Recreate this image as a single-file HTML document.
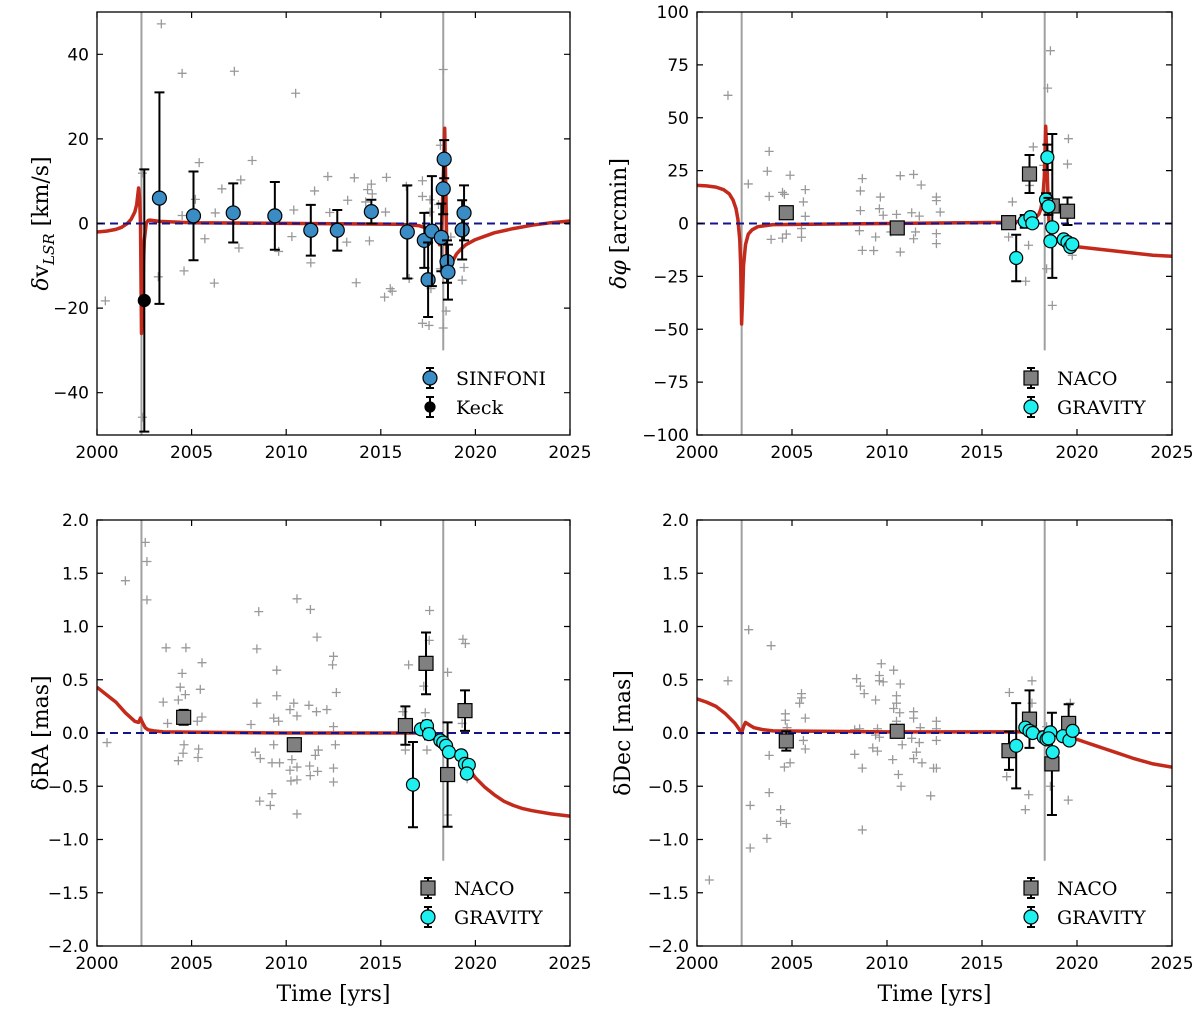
<!DOCTYPE html>
<html><head><meta charset="utf-8"><style>
body{margin:0;background:#fff}
svg{display:block}
.tk{font-family:"DejaVu Sans","Liberation Sans",sans-serif;font-size:17px;fill:#000}
.lb{font-family:"DejaVu Serif","Liberation Serif",serif;font-size:22px;fill:#000}
.lg{font-family:"DejaVu Serif","Liberation Serif",serif;font-size:19px;fill:#000}
</style></head><body>
<svg id="c" width="1200" height="1013" xmlns="http://www.w3.org/2000/svg"></svg>
<script>
// ---- Panel 1: velocity ----
const p1CrossX=[0.44,3.4,4.5,7.26,10.5,5.4,8.2,7.6,6.6,5.2,4.5,6.25,5.7,7.5,4.6,6.2,3.24,2.4,2.4,10.4,9.6,11.5,10.3,12.2,11.3,12.3,13.25,13.6,13.2,13.7,14.5,14.3,14.55,14.2,14.4,15.25,15.3,15.2,15.5,15.6,16.35,16.5,17.2,17.2,17.6,17.2,17.55,18.05,18.15,18.3,18.3,18.45,18.15,18.7,19.4,19.3,17.6,17.65];
const p1CrossY=[-18.3,47.2,35.5,36,30.8,14.4,14.9,10.3,8.2,5.7,1.9,2.5,-3.6,-5.8,-11.2,-14.1,-12.6,11.9,-45.8,3.2,-6.6,7.7,-3.1,11.1,-9.3,2.6,5.5,10.8,-4.4,-14,9.3,8,7,5.1,-4.1,2.7,10.9,-17.4,-15.4,-16,8.8,-13,10.1,6.4,5.6,-23.6,-24.1,4.5,18.5,36.4,-24.7,-20.7,-10.7,-3.2,-10.4,-13.4,2.7,-15.4];
const p1SinX=[3.3,5.1,7.2,9.4,11.3,12.7,14.5,16.4,17.3,17.5,17.7,18.2,18.3,18.35,18.5,18.55,19.3,19.4];
const p1SinY=[6,1.8,2.5,1.8,-1.6,-1.6,2.8,-2,-4,-13.3,-1.8,-3.3,8.2,15.2,-9,-11.5,-1.5,2.5];
const p1SinE=[25,10.5,7,8,6,4.8,2.8,11,6.5,8.8,13,8,6,4.5,5,6.5,7,6.5];
const p1KeckX=[2.5], p1KeckY=[-18.2], p1KeckE=[31];
const p1ModX=[0,0.5,1,1.3,1.6,1.8,2,2.1,2.2,2.25,2.3,2.35,2.4,2.45,2.5,2.6,2.7,2.8,3.3,5,16,17,17.5,17.8,18,18.1,18.2,18.25,18.3,18.35,18.38,18.42,18.45,18.5,18.6,18.7,18.85,19,19.25,19.5,20,20.5,21,22,23,24,25];
const p1ModY=[-2,-1.8,-1.4,-0.9,0,1,2.7,4.5,8.4,6,0,-26,-20,-10,-4,0,0.7,0.8,0.5,0.2,-0.2,-0.5,-1.2,-2,-3.5,-5,-2,3,10,18,22.5,12,5,-12,-12,-10.5,-8.5,-7.2,-6,-5,-3.8,-3,-2.2,-1.2,-0.4,0.2,0.6];
const p1Ticks=[-40,-20,0,20,40];
// ---- Panel 2: phi ----
const p2CrossX=[1.63,2.7,3.8,3.7,3.8,4.9,4.5,4.6,5.6,5.7,5.7,3.9,4.5,4.7,5.5,5.5,8.7,8.6,8.6,9.65,9.6,8.7,9.3,8.55,9.4,10.7,11.4,11.8,10.7,11.4,12.6,12.6,12.8,12.6,12.6,11.7,11.3,10.5,9.8,10.2,11.5,16.6,17.7,17.3,17.45,17.5,18.45,18.6,18.7,18.4,19.55,19.5,19.75,16.4,18.25];
const p2CrossY=[60.6,18.7,34.1,24.7,12.8,22.8,14.7,13.8,10.2,16,3.4,-7.5,-6.9,-5,-6.5,-2.4,21.2,15.4,6.1,12.5,7,-12.7,-12.8,-3.4,-6.4,22.6,23.2,18.2,-13.5,-7.2,12.5,10.8,5.4,-9.5,-4.8,3.5,5.1,4.3,3.9,-4,-4,10.2,36.2,-27.3,-10.3,18,64,81.7,-38.7,-21.4,40.1,28.1,-15,-6.4,27.5];
const p2NacoX=[4.7,10.54,16.4,17.5,18.7,19.5], p2NacoY=[5.1,-2.1,0.4,23.4,8.3,5.8], p2NacoE=[3,2,3,9,34,6.5];
const p2GravX=[16.8,17.25,17.55,17.65,18.37,18.44,18.5,18.7,18.6,19.3,19.5,19.65,19.75];
const p2GravY=[-16.3,1,3,0.1,11.3,31.3,8.1,-1.8,-8.4,-7.5,-8.8,-11.1,-9.8];
const p2GravE=[11,3,2,2,3,6,4,2,2,1.5,1.5,1.5,1.5];
const p2ModX=[0,0.5,1,1.4,1.7,1.9,2.05,2.15,2.25,2.3,2.35,2.4,2.45,2.55,2.7,2.9,3.2,4,10,16,17,17.5,17.8,18,18.1,18.2,18.28,18.35,18.4,18.45,18.5,18.55,18.65,18.8,19.3,20,21,22,23,24,25];
const p2ModY=[18,17.8,17.2,16,14,11,7,2,-8,-20,-47.5,-35,-20,-10,-5,-3,-1.5,-0.5,0,0.5,1,1.5,2.5,4.5,7,12,22,46,35,20,5,-3,-6,-7,-9,-11,-12,-13,-14,-15,-15.5];
const p2Ticks=[-100,-75,-50,-25,0,25,50,75,100];
// ---- Panel 3: RA ----
const p3CrossX=[0.53,1.5,2.55,2.64,2.64,3.65,4.7,5.55,4.5,4.4,4.67,5.46,3.5,4.3,3.73,5.3,5.55,4.6,4.55,4.3,5.37,5.34,8.55,8.45,9.5,9.5,8.45,8.14,10.57,11.28,11.63,12.5,12.45,12.65,12.15,11.2,11.6,10.4,10.2,10.57,9.34,9.6,12.5,8.37,8.63,9.25,9.65,10.3,10.57,10.2,10.25,10.57,11.24,11.27,11.66,11.54,11.7,12.5,12.5,12.6,9.25,8.6,9.16,10.57,9.34,16.47,17.58,17.56,17.27,17.35,17.44,16.17,16.3,18.53,19.34,19.47,19.3,18.53,19.56];
const p3CrossY=[-0.09,1.43,1.79,1.61,1.25,0.8,0.8,0.66,0.56,0.43,0.36,0.41,0.29,0.31,0.09,0.11,0.15,-0.11,-0.19,-0.26,-0.15,-0.23,1.14,0.79,0.59,0.35,0.28,0.08,1.26,1.16,0.9,0.72,0.64,0.38,0.22,0.26,0.2,0.28,0.22,0.16,0.14,0.11,0.06,-0.18,-0.24,-0.28,-0.28,-0.25,-0.32,-0.35,-0.45,-0.44,-0.31,-0.4,-0.36,-0.21,-0.16,-0.33,-0.46,-0.11,-0.57,-0.64,-0.68,-0.76,-0.11,0.64,1.15,0.87,0.44,0.19,-0.16,0.2,-0.16,0.57,0.88,0.84,0.09,-0.77,-0.43];
const p3NacoX=[4.58,10.43,16.3,17.39,18.53,19.45], p3NacoY=[0.147,-0.11,0.07,0.654,-0.39,0.21], p3NacoE=[0.07,0.03,0.18,0.29,0.49,0.19];
const p3GravX=[16.7,17.12,17.44,17.55,18.15,18.3,18.45,18.6,19.25,19.45,19.65,19.55];
const p3GravY=[-0.485,0.035,0.066,-0.01,-0.07,-0.09,-0.12,-0.18,-0.21,-0.29,-0.3,-0.38];
const p3GravE=[0.4,0.03,0.05,0.05,0.03,0.03,0.03,0.03,0.04,0.04,0.04,0.04];
const p3ModX=[0,0.5,1,1.5,2,2.2,2.3,2.4,2.55,2.7,3,3.5,10,17,17.5,18,18.5,19,19.5,20,20.5,21,21.5,22,22.5,23,24,25];
const p3ModY=[0.43,0.36,0.29,0.19,0.11,0.1,0.14,0.1,0.05,0.03,0.02,0.01,0,0,-0.01,-0.03,-0.1,-0.2,-0.3,-0.42,-0.51,-0.58,-0.64,-0.68,-0.71,-0.73,-0.76,-0.78];
const p34Ticks=[-2,-1.5,-1,-0.5,0,0.5,1,1.5,2];
const p34TickLabels=["\u22122.0","\u22121.5","\u22121.0","\u22120.5","0.0","0.5","1.0","1.5","2.0"];
// ---- Panel 4: Dec ----
const p4CrossX=[0.65,1.63,2.72,2.8,2.8,3.9,3.68,3.8,3.8,4.4,4.4,4.7,4.6,4.9,4.65,4.65,4.74,5.4,5.5,5.5,5.7,5.6,5.7,8.4,8.6,8.8,9.4,9.6,9.7,9.6,9.8,10.35,10.7,10.5,10.5,10.35,10.67,10.5,11.4,11.4,11.75,11.3,11.7,10.8,9.5,9.4,9.6,8.3,8.56,8.3,9.25,9.5,8.7,10.3,10.6,10.74,11.4,11.55,11.84,12.3,12.45,12.6,12.6,12.6,12.6,8.7,16.44,17.63,17.63,16.3,17.28,17.46,19.54,19.65,18.6,18.4];
const p4CrossY=[-1.38,0.49,0.97,-0.68,-1.08,0.82,-0.99,-0.56,-0.21,-0.72,-0.83,-0.85,-0.32,-0.28,0.18,0.12,0.05,0.28,0.37,0.33,0.14,-0.07,-0.15,0.51,0.44,0.37,0.31,0.54,0.65,0.49,0.48,0.59,0.46,0.35,0.28,0.23,0.19,0.11,0.2,0.14,0.05,-0.05,-0.09,-0.11,0.04,-0.02,-0.04,0.03,0.04,-0.2,-0.14,-0.17,-0.33,-0.25,-0.39,-0.5,-0.24,-0.18,-0.28,-0.59,-0.33,-0.33,0.11,0.04,-0.07,-0.91,0.38,0.49,0.28,-0.41,-0.72,-0.58,-0.63,0.28,-0.5,0.06];
const p4NacoX=[4.7,10.54,16.42,17.5,18.68,19.56], p4NacoY=[-0.075,0.016,-0.166,0.13,-0.29,0.09], p4NacoE=[0.09,0.02,0.18,0.27,0.48,0.18];
const p4GravX=[16.8,17.28,17.5,17.67,18.25,18.4,18.6,18.5,18.72,19.26,19.6,19.77];
const p4GravY=[-0.12,0.05,0.02,0,-0.04,-0.06,0.006,-0.05,-0.18,-0.03,-0.07,0.02];
const p4GravE=[0.4,0.03,0.03,0.03,0.03,0.03,0.03,0.03,0.03,0.03,0.03,0.03];
const p4ModX=[0,0.5,1,1.5,2,2.2,2.35,2.45,2.55,2.8,3,3.5,4,10,16,18,18.7,19.5,20,20.5,21,21.5,22,22.5,23,24,25];
const p4ModY=[0.32,0.29,0.25,0.18,0.09,0.04,0,0.06,0.1,0.07,0.05,0.03,0.02,0.01,0.01,0.01,0.005,-0.02,-0.06,-0.09,-0.12,-0.15,-0.18,-0.21,-0.24,-0.29,-0.32];
const xTicks=[0,5,10,15,20,25];
const vLines=[2.35,18.3];

const NS="http://www.w3.org/2000/svg";
const svg=document.getElementById('c');
function mk(tag,attrs,parent){const e=document.createElementNS(NS,tag);for(const k in attrs)e.setAttribute(k,attrs[k]);(parent||svg).appendChild(e);return e;}

function panel(o){
  const g=mk('g',{});
  
  
  const X=v=>o.x0+(v/25)*(o.x1-o.x0);
  const Y=v=>o.y1-(v-o.ymin)/(o.ymax-o.ymin)*(o.y1-o.y0);
  const clip='cp'+o.name;
  const d=mk('clipPath',{id:clip},g); mk('rect',{x:o.x0,y:o.y0,width:o.x1-o.x0,height:o.y1-o.y0},d);
  const plot=mk('g',{'clip-path':'url(#'+clip+')'},g);
  vLines.forEach((v,i)=>{const l=mk('line',{x1:X(v),x2:X(v),y1:o.y0,y2:i==0?o.y1:Y(o.vEnd),stroke:'#a0a0a0','stroke-width':2},plot);
    });
  o.cx.forEach((cx,i)=>{const px=X(cx),py=Y(o.cy[i]);
    const p=mk('path',{d:`M${px-4.5},${py}H${px+4.5}M${px},${py-4.5}V${py+4.5}`,stroke:'#999','stroke-width':1.3},plot);
    });
  let dd='';o.mx.forEach((mx,i)=>{dd+=(i?'L':'M')+X(mx).toFixed(1)+','+Y(o.my[i]).toFixed(1);});
  const m=mk('path',{d:dd,fill:'none',stroke:'#c42a1c','stroke-width':3.5,'stroke-linejoin':'round'},plot);
  
  const z=mk('line',{x1:o.x0,x2:o.x1,y1:Y(0),y2:Y(0),stroke:'#14148c','stroke-width':2,'stroke-dasharray':'8,5'},plot);
  
  function errs(xs,ys,es,shape,fill,name,r){
    xs.forEach((xv,i)=>{const px=X(xv),py=Y(ys[i]),t=Y(ys[i]+es[i]),b=Y(ys[i]-es[i]);
      const gg=mk('g',{},plot);
      
      mk('path',{d:`M${px},${t}V${b}M${px-5},${t}H${px+5}M${px-5},${b}H${px+5}`,stroke:'#000','stroke-width':2},gg);
      if(shape=='sq')mk('rect',{x:px-r,y:py-r,width:2*r,height:2*r,fill:fill,stroke:'#000','stroke-width':1.2},gg);
      else mk('circle',{cx:px,cy:py,r:r,fill:fill,stroke:'#000','stroke-width':1.2},gg);
    });
  }
  o.series.forEach(s=>errs(s.x,s.y,s.e,s.shape,s.fill,s.name,s.r));
  mk('rect',{x:o.x0,y:o.y0,width:o.x1-o.x0,height:o.y1-o.y0,fill:'none',stroke:'#000','stroke-width':1.3},g);
  xTicks.forEach(t=>{const px=X(t);
    mk('path',{d:`M${px},${o.y1}v-6M${px},${o.y0}v6`,stroke:'#000','stroke-width':1.2},g);
    const tx=mk('text',{x:px,y:o.y1+23,'text-anchor':'middle',class:'tk'},g);tx.textContent=2000+t;
    });
  o.yt.forEach((t,i)=>{const py=Y(t);
    mk('path',{d:`M${o.x0},${py}h6M${o.x1},${py}h-6`,stroke:'#000','stroke-width':1.2},g);
    const tx=mk('text',{x:o.x0-8,y:py+6,'text-anchor':'end',class:'tk'},g);tx.textContent=o.ytl[i];
    });
  const yl=mk('text',{x:0,y:0,'text-anchor':'middle',class:'lb',transform:`translate(${o.ylx},${(o.y0+o.y1)/2}) rotate(-90)`},g);
  yl.innerHTML=o.ylab;
  
  if(o.xlab){const xl=mk('text',{x:(o.x0+o.x1)/2,y:1001,'text-anchor':'middle',class:'lb'},g);xl.textContent='Time [yrs]';
    }
  const lg=mk('g',{},g);
  
  o.series.forEach((s,i)=>{const px=o.lx,py=o.ly+i*29;
    const e=mk('g',{},lg);
    
    mk('path',{d:`M${px},${py-10}V${py+10}M${px-4},${py-10}H${px+4}M${px-4},${py+10}H${px+4}`,stroke:'#000','stroke-width':2},e);
    if(s.shape=='sq')mk('rect',{x:px-7,y:py-7,width:14,height:14,fill:s.fill,stroke:'#000','stroke-width':1.2},e);
    else mk('circle',{cx:px,cy:py,r:s.lr||7,fill:s.fill,stroke:'#000','stroke-width':1.2},e);
    const t=mk('text',{x:px+26,y:py+7,class:'lg'},e);t.textContent=s.label;});
}
panel({name:'velocity-panel',x0:97,x1:570,y0:12,y1:435,ymin:-50,ymax:50,yt:p1Ticks,ytl:p1Ticks.map(v=>v<0?'\u2212'+(-v):''+v),
  ylx:48,ylab:'<tspan font-style="italic">δ</tspan>v<tspan font-size="15" dy="6" font-style="italic">LSR</tspan><tspan dy="-6"> [km/s]</tspan>',vEnd:-30,
  cx:p1CrossX,cy:p1CrossY,mx:p1ModX,my:p1ModY,lx:430,ly:378,
  series:[{x:p1SinX,y:p1SinY,e:p1SinE,shape:'c',fill:'#3a8cc4',name:'sinfoni-point',r:7,label:'SINFONI'},
          {x:p1KeckX,y:p1KeckY,e:p1KeckE,shape:'c',fill:'#000',name:'keck-point',r:6,lr:5,label:'Keck'}]});
panel({name:'phi-panel',x0:697,x1:1172,y0:12,y1:435,ymin:-100,ymax:100,yt:p2Ticks,ytl:p2Ticks.map(v=>v<0?'\u2212'+(-v):''+v),
  ylx:626,ylab:'<tspan font-style="italic">δφ</tspan> [arcmin]',vEnd:-60,
  cx:p2CrossX,cy:p2CrossY,mx:p2ModX,my:p2ModY,lx:1031,ly:378,
  series:[{x:p2NacoX,y:p2NacoY,e:p2NacoE,shape:'sq',fill:'#808080',name:'naco-point',r:7,label:'NACO'},
          {x:p2GravX,y:p2GravY,e:p2GravE,shape:'c',fill:'#1ef0f0',name:'gravity-point',r:6.5,label:'GRAVITY'}]});
panel({name:'ra-panel',x0:97,x1:570,y0:520,y1:946,ymin:-2,ymax:2,yt:p34Ticks,ytl:p34TickLabels,
  ylx:48,ylab:'δRA [mas]',vEnd:-1.2,xlab:true,
  cx:p3CrossX,cy:p3CrossY,mx:p3ModX,my:p3ModY,lx:428,ly:888,
  series:[{x:p3NacoX,y:p3NacoY,e:p3NacoE,shape:'sq',fill:'#808080',name:'naco-point',r:7,label:'NACO'},
          {x:p3GravX,y:p3GravY,e:p3GravE,shape:'c',fill:'#1ef0f0',name:'gravity-point',r:6.5,label:'GRAVITY'}]});
panel({name:'dec-panel',x0:697,x1:1172,y0:520,y1:946,ymin:-2,ymax:2,yt:p34Ticks,ytl:p34TickLabels,
  ylx:630,ylab:'δDec [mas]',vEnd:-1.2,xlab:true,
  cx:p4CrossX,cy:p4CrossY,mx:p4ModX,my:p4ModY,lx:1031,ly:888,
  series:[{x:p4NacoX,y:p4NacoY,e:p4NacoE,shape:'sq',fill:'#808080',name:'naco-point',r:7,label:'NACO'},
          {x:p4GravX,y:p4GravY,e:p4GravE,shape:'c',fill:'#1ef0f0',name:'gravity-point',r:6.5,label:'GRAVITY'}]});
</script>
</body></html>
